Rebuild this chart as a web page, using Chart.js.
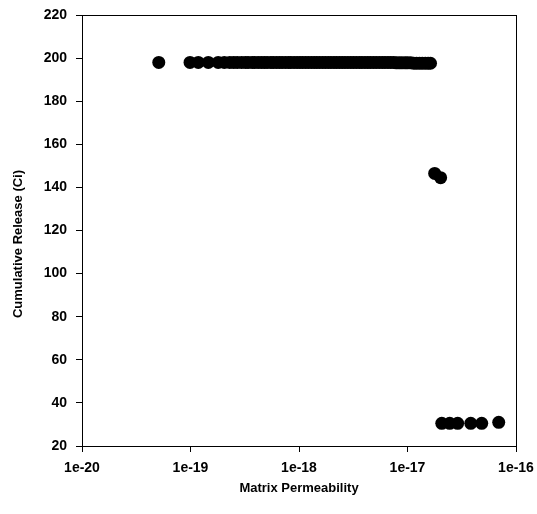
<!DOCTYPE html>
<html>
<head>
<meta charset="utf-8">
<script src="https://cdn.jsdelivr.net/npm/chart.js@4.4.1/dist/chart.umd.min.js"></script>
<style>
  html, body { margin: 0; padding: 0; background: #fff; }
  #wrap { width: 537px; height: 514px; }
</style>
</head>
<body>
<div id="wrap"><canvas id="c" width="537" height="514"></canvas></div>
<script>
// Matrix permeability (x) vs cumulative release in Ci (y)
const permHigh = [
  5.1e-20, 9.9e-20, 1.18e-19, 1.46e-19, 1.80e-19, 2.05e-19, 2.3e-19, 2.5e-19, 2.7e-19,
  2.95e-19, 3.2e-19, 3.4e-19, 3.7e-19, 3.9e-19, 4.2e-19, 4.5e-19, 4.8e-19, 5.1e-19,
  5.5e-19, 5.8e-19, 6.2e-19, 6.6e-19, 7.0e-19, 7.5e-19, 8.0e-19, 8.4e-19, 9.0e-19,
  9.6e-19, 1.02e-18, 1.08e-18, 1.15e-18, 1.22e-18, 1.3e-18, 1.38e-18, 1.46e-18,
  1.55e-18, 1.65e-18, 1.75e-18, 1.86e-18, 1.97e-18, 2.1e-18, 2.22e-18, 2.36e-18,
  2.5e-18, 2.65e-18, 2.82e-18, 3.0e-18, 3.18e-18, 3.38e-18, 3.6e-18, 3.8e-18,
  4.05e-18, 4.3e-18, 4.55e-18, 4.85e-18, 5.15e-18, 5.5e-18, 5.85e-18, 6.2e-18,
  6.6e-18, 7.0e-18, 7.45e-18, 7.9e-18, 8.4e-18, 8.9e-18, 9.5e-18, 1.0e-17,
  1.07e-17, 1.14e-17, 1.21e-17, 1.29e-17, 1.37e-17, 1.46e-17, 1.55e-17, 1.63e-17
];
const releaseHigh = [
  198, 198, 198, 198, 198, 198, 198, 198, 198,
  198, 198, 198, 198, 198, 198, 198, 198, 198,
  198, 198, 198, 198, 198, 198, 198, 198, 198,
  198, 198, 198, 198, 198, 198, 198, 198,
  198, 198, 198, 198, 198, 198, 198, 198,
  198, 198, 198, 198, 198, 198, 198, 198,
  198, 198, 198, 198, 198, 198, 198, 198,
  198, 198, 198, 197.8, 197.8, 197.8, 197.8, 197.8,
  197.8, 197.6, 197.6, 197.6, 197.6, 197.6, 197.6, 197.6
];
const permMid = [1.78e-17, 2.02e-17];
const releaseMid = [146.5, 144.5];
const permLow = [2.07e-17, 2.45e-17, 2.9e-17, 3.83e-17, 4.83e-17, 6.93e-17];
const releaseLow = [30.5, 30.5, 30.5, 30.5, 30.5, 31];

const xTickValues = [1e-20, 1e-19, 1e-18, 1e-17, 1e-16];
const xTickLabels = ['1e-20', '1e-19', '1e-18', '1e-17', '1e-16'];
const yTickValues = [20, 40, 60, 80, 100, 120, 140, 160, 180, 200, 220];
const yTitle = 'Cumulative Release (Ci)';

const points = [];
[[permHigh, releaseHigh], [permMid, releaseMid], [permLow, releaseLow]].forEach(([xs, ys]) => {
  xs.forEach((x, i) => points.push({ x: x, y: ys[i] }));
});

const fontFamily = '"Liberation Sans", Arial, sans-serif';
const tickFont = { family: fontFamily, size: 14, weight: 'bold' };
const titleFont = { family: fontFamily, size: 13, weight: 'bold' };

// Closed frame round the plot area, plus the vertical y-axis title
const framePlugin = {
  id: 'frame',
  afterDraw(chart) {
    const a = chart.chartArea;
    const ctx = chart.ctx;
    ctx.save();
    ctx.strokeStyle = '#000';
    ctx.lineWidth = 1;
    ctx.strokeRect(a.left + 0.5, a.top + 0.5, a.right - a.left, a.bottom - a.top);
    ctx.translate(18, 244);
    ctx.rotate(-Math.PI / 2);
    ctx.fillStyle = '#000';
    ctx.font = 'bold 13px ' + fontFamily;
    ctx.textAlign = 'center';
    ctx.textBaseline = 'middle';
    ctx.fillText(yTitle, 0, 0);
    ctx.restore();
  }
};

new Chart(document.getElementById('c'), {
  type: 'scatter',
  data: {
    datasets: [{
      data: points,
      backgroundColor: '#000',
      borderColor: '#000',
      pointRadius: 6.5,
      pointHoverRadius: 6.5,
      borderWidth: 0
    }]
  },
  options: {
    responsive: false,
    animation: false,
    events: [],
    layout: { padding: { top: 15, right: 21, left: 0, bottom: 0 } },
    plugins: { legend: { display: false }, tooltip: { enabled: false } },
    scales: {
      x: {
        type: 'logarithmic',
        min: 1e-20,
        max: 1e-16,
        afterBuildTicks(scale) {
          scale.ticks = xTickValues.map(v => ({ value: v }));
        },
        afterFit(scale) {
          scale.height = 68;
          scale.paddingLeft = 0;
          scale.paddingRight = 0;
        },
        ticks: {
          color: '#000',
          font: tickFont,
          padding: 8,
          maxRotation: 0,
          autoSkip: false,
          callback: (v, i) => xTickLabels[i]
        },
        grid: { drawOnChartArea: false, drawTicks: true, tickLength: 6, color: '#000' },
        border: { color: '#000' },
        title: { display: true, text: 'Matrix Permeability', color: '#000', font: titleFont, padding: { top: 0, bottom: 18 } }
      },
      y: {
        min: 20,
        max: 220,
        afterBuildTicks(scale) {
          scale.ticks = yTickValues.map(v => ({ value: v }));
        },
        afterFit(scale) {
          scale.width = 82;
          scale.paddingTop = 0;
          scale.paddingBottom = 0;
        },
        ticks: { color: '#000', font: tickFont, padding: 9, autoSkip: false },
        grid: { drawOnChartArea: false, drawTicks: true, tickLength: 6, color: '#000' },
        border: { color: '#000' },
        title: { display: false }
      }
    }
  },
  plugins: [framePlugin]
});
</script>
</body>
</html>
